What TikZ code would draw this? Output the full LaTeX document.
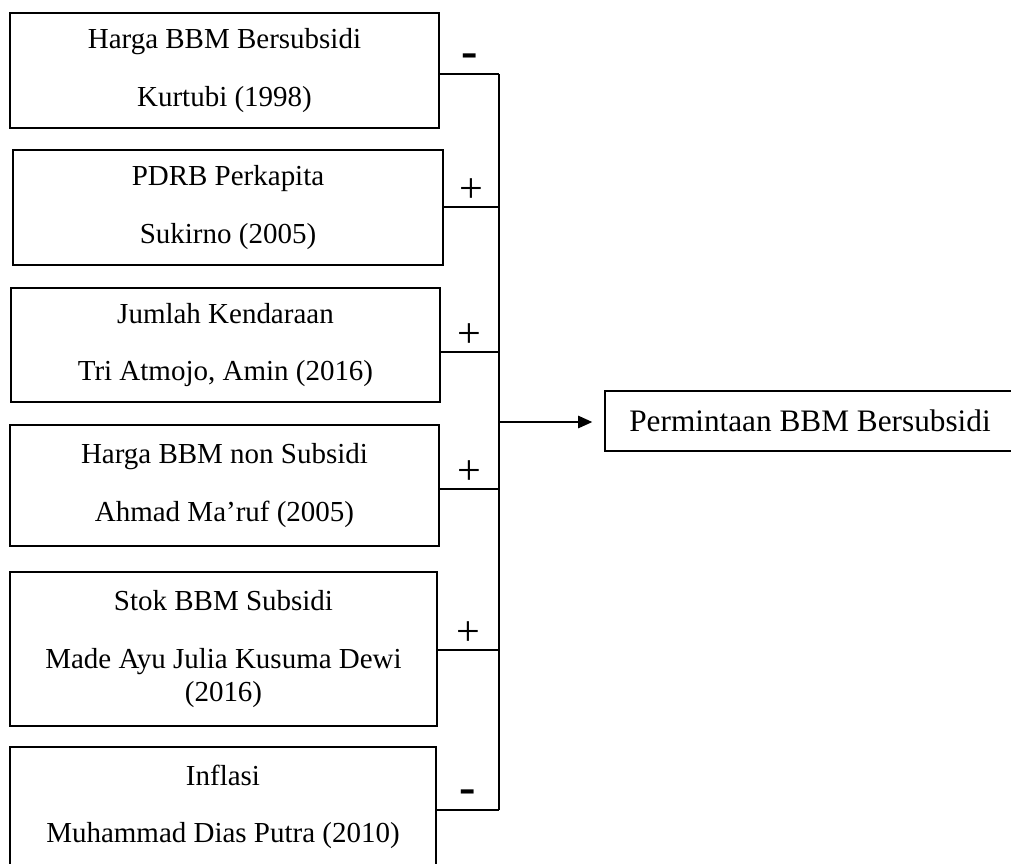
\documentclass[tikz,border=0pt]{standalone}
\usepackage{fontspec}
\setmainfont{Liberation Serif}
\usetikzlibrary{arrows.meta}

\tikzset{
  factor/.style={draw, align=center, inner sep=0pt,
    font=\fontsize{16.5}{18.7}\selectfont},
  plus/.style={inner sep=0pt, above=2pt, font=\fontsize{24}{26}\selectfont},
  minus/.style={inner sep=0pt, above=3.5pt, font=\fontsize{28}{30}\bfseries}
}

\begin{document}
\begin{tikzpicture}[x=0.02cm, y=-0.02cm, line width=0.85pt]
  \path[use as bounding box, clip] (0, 0) rectangle (1011, 863);

  \node[factor, minimum width=8.58cm, minimum height=2.3cm] (b1) at (224.5, 70.5)
    {Harga BBM Bersubsidi\\[14pt] Kurtubi (1998)};
  \node[factor, minimum width=8.6cm, minimum height=2.3cm] (b2) at (228, 207.5)
    {PDRB Perkapita\\[14pt] Sukirno (2005)};
  \node[factor, minimum width=8.58cm, minimum height=2.28cm] (b3) at (225.5, 345)
    {Jumlah Kendaraan\\[14pt] Tri Atmojo, Amin (2016)};
  \node[factor, minimum width=8.58cm, minimum height=2.42cm] (b4) at (224.5, 485.5)
    {Harga BBM non Subsidi\\[14pt] Ahmad Ma’ruf (2005)};
  \node[factor, minimum width=8.54cm, minimum height=3.08cm] (b5) at (223.5, 649)
    {Stok BBM Subsidi\\[14pt] Made Ayu Julia Kusuma Dewi\\ (2016)};
  \node[factor, minimum width=8.52cm, minimum height=2.4cm] (b6) at (223, 807)
    {Inflasi\\[14pt] Muhammad Dias Putra (2010)};
  \node[factor, minimum width=8.2cm, minimum height=1.2cm,
    font=\fontsize{17.8}{20}\selectfont] (out) at (810, 421)
    {Permintaan BBM Bersubsidi};

  \coordinate (j1) at (499, 74);
  \coordinate (j2) at (499, 207);
  \coordinate (j3) at (499, 352);
  \coordinate (j4) at (499, 489);
  \coordinate (j5) at (499, 650);
  \coordinate (j6) at (499, 810);
  \coordinate (jo) at (499, 422);

  \draw (b1.east |- j1) -- node[minus] (s1) {-} (j1);
  \draw (b2.east |- j2) -- node[plus] (s2) {+} (j2);
  \draw (b3.east |- j3) -- node[plus] (s3) {+} (j3);
  \draw (b4.east |- j4) -- node[plus] (s4) {+} (j4);
  \draw (b5.east |- j5) -- node[plus] (s5) {+} (j5);
  \draw (b6.east |- j6) -- node[minus] (s6) {-} (j6);
  \draw (j1) -- (j6);
  \draw[-{Triangle[length=8pt, width=7pt]}, shorten >=0.24cm]
    (jo) -- (jo -| out.west);
\end{tikzpicture}
\end{document}
